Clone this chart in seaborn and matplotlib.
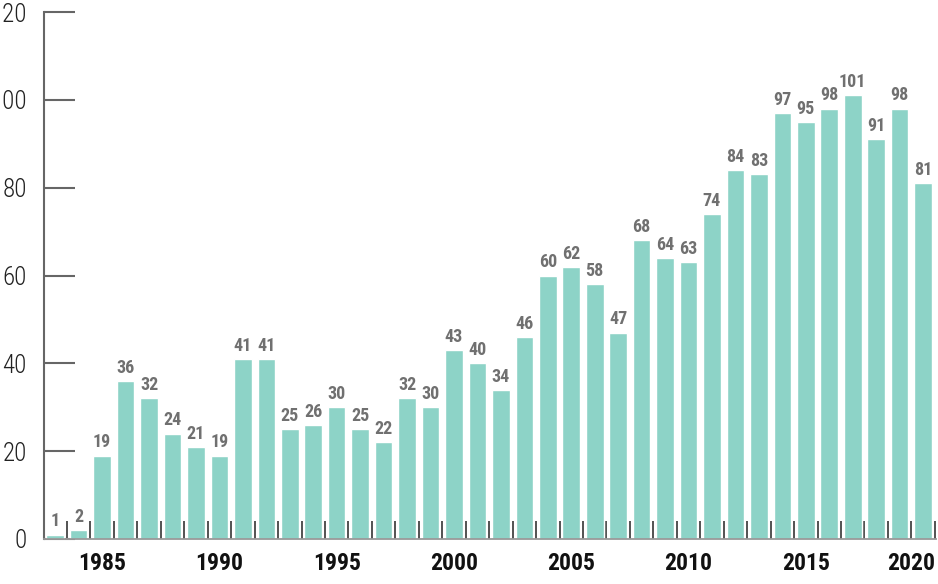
import seaborn as sns
import pandas
import numpy as np
import matplotlib
import matplotlib.pyplot as plt
import matplotlib.transforms as mtransforms
from matplotlib.ticker import FixedLocator

matplotlib.use("Agg")

years = list(range(1983, 2021))
counts = [1, 2, 19, 36, 32, 24, 21, 19, 41, 41,
          25, 26, 30, 25, 22, 32, 30, 43, 40, 34,
          46, 60, 62, 58, 47, 68, 64, 63, 74, 84,
          83, 97, 95, 98, 101, 91, 98, 81]
label_years = [1985, 1990, 1995, 2000, 2005, 2010, 2015, 2020]
y_ticks = [0, 20, 40, 60, 80, 100, 120]

sns.set_style("white")
plt.rcParams["font.family"] = ["Roboto Condensed", "Liberation Sans Narrow",
                               "DejaVu Sans"]

data = pandas.DataFrame({"year": [str(y) for y in years], "count": counts})
bar_color = sns.color_palette("Set3")[0]

fig = plt.figure(figsize=(9.38, 5.84), dpi=100)
ax = fig.add_axes([43.5 / 938, 45 / 584, 892.5 / 938, 527 / 584])

sns.barplot(
    ax=ax,
    data=data,
    x="year",
    y="count",
    color=bar_color,
    saturation=1,
    width=0.75,
    errorbar=None,
)

ax.bar_label(ax.containers[0], padding=3, fontsize=13, fontweight="bold",
             color="#707070")

ax.set_xlim(-0.5, 37.55)
ax.set_ylim(0, 120)
ax.set_yticks(y_ticks)
ax.set_yticklabels([str(v) for v in y_ticks], fontsize=18, fontweight="light",
                   color="#222222")
ax.tick_params(axis="y", left=True, direction="in", length=22, width=1.5,
               color="#666666", pad=12)

pos = [years.index(y) for y in label_years]
ax.set_xticks(pos)
ax.set_xticklabels([str(y) for y in label_years], fontsize=17,
                   fontweight="bold", color="#111111")
ax.xaxis.set_minor_locator(FixedLocator(np.arange(-0.5, 38, 1)))
ax.tick_params(axis="x", which="major", bottom=True, length=0, pad=9)
ax.tick_params(axis="x", which="minor", bottom=True, direction="in",
               length=13, width=1.3, color="#444444")

# keep the last year label inside the figure
last = ax.get_xticklabels()[-1]
last.set_transform(last.get_transform() +
                   mtransforms.ScaledTranslation(-0.12, 0, fig.dpi_scale_trans))

ax.set_xlabel("")
ax.set_ylabel("")
for side in ["top", "right"]:
    ax.spines[side].set_visible(False)
ax.spines["left"].set_color("#666666")
ax.spines["left"].set_linewidth(1.5)
ax.spines["bottom"].set_color("#999999")
ax.spines["bottom"].set_linewidth(1.3)

fig.savefig("out.png", dpi=100)
